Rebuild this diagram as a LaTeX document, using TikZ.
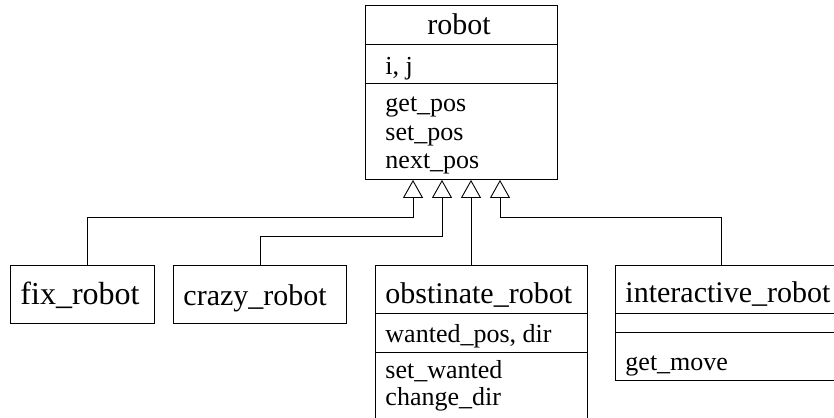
\documentclass[tikz,border=0pt]{standalone}
\usepackage{fontspec}
\setmainfont{Liberation Serif}
\usetikzlibrary{arrows.meta}
\begin{document}
\begin{tikzpicture}[x=1pt, y=-1pt, line width=0.9pt,
  classbox/.style={draw, rectangle, inner sep=0pt, anchor=north west},
  classname/.style={font=\fontsize{30}{36}\selectfont, inner sep=0pt, anchor=base west},
  member/.style={font=\fontsize{26}{30}\selectfont, inner sep=0pt, anchor=base west},
  inherit/.style={-{Triangle[open, width=20pt, length=18pt]}},
]
\useasboundingbox (0,0) rectangle (834,417);
\clip (0,0) rectangle (834,417);

% base class
\node[classbox, minimum width=192pt, minimum height=174pt] (robot) at (365,5) {};
\draw (365,44) -- (557,44);
\draw (365,83) -- (557,83);
\node[classname, anchor=base] (robotname) at (459,35) {robot};
\node[member] (robotattr) at (385,75) {i, j};
\node[member] (m1) at (385,112) {get\_pos};
\node[member] (m2) at (385,140) {set\_pos};
\node[member] (m3) at (385,168) {next\_pos};

% derived classes
\node[classbox, minimum width=144pt, minimum height=58pt] (fix) at (10,265) {};
\node[classname, font=\fontsize{32}{38}\selectfont] (fixname) at (20,304) {fix\_robot};

\node[classbox, minimum width=173pt, minimum height=58pt] (crazy) at (173,265) {};
\node[classname] (crazyname) at (183,305) {crazy\_robot};

\node[classbox, minimum width=212pt, minimum height=180pt] (obst) at (375,265) {};
\draw (375,313) -- (587,313);
\draw (375,352) -- (587,352);
\node[classname] (obstname) at (385,303) {obstinate\_robot};
\node[member] (obstattr) at (385,342) {wanted\_pos, dir};
\node[member] (o1) at (385,378) {set\_wanted};
\node[member] (o2) at (385,405) {change\_dir};

\node[classbox, minimum width=300pt, minimum height=115pt] (inter) at (615,265) {};
\draw (615,313) -- (915,313);
\draw (615,332) -- (915,332);
\node[classname] (intername) at (625,302) {interactive\_robot};
\node[member] (i1) at (625,370) {get\_move};

% attachment points of the generalisation arrows
\coordinate (a1) at ([xshift=48pt]robot.south west);
\coordinate (a2) at ([xshift=77pt]robot.south west);
\coordinate (a3) at ([xshift=106pt]robot.south west);
\coordinate (a4) at ([xshift=135pt]robot.south west);
\coordinate (f1) at ([xshift=77pt]fix.north west);
\coordinate (o3) at ([xshift=96pt]obst.north west);
\coordinate (i3) at ([xshift=106pt]inter.north west);
\coordinate (k1) at (0,217);
\coordinate (k2) at (0,236);

\draw[inherit] (f1) |- (a1 |- k1) -- (a1);
\draw[inherit] (crazy.north) |- (a2 |- k2) -- (a2);
\draw[inherit] (o3) -- (a3);
\draw[inherit] (i3) |- (a4 |- k1) -- (a4);
\end{tikzpicture}
\end{document}
